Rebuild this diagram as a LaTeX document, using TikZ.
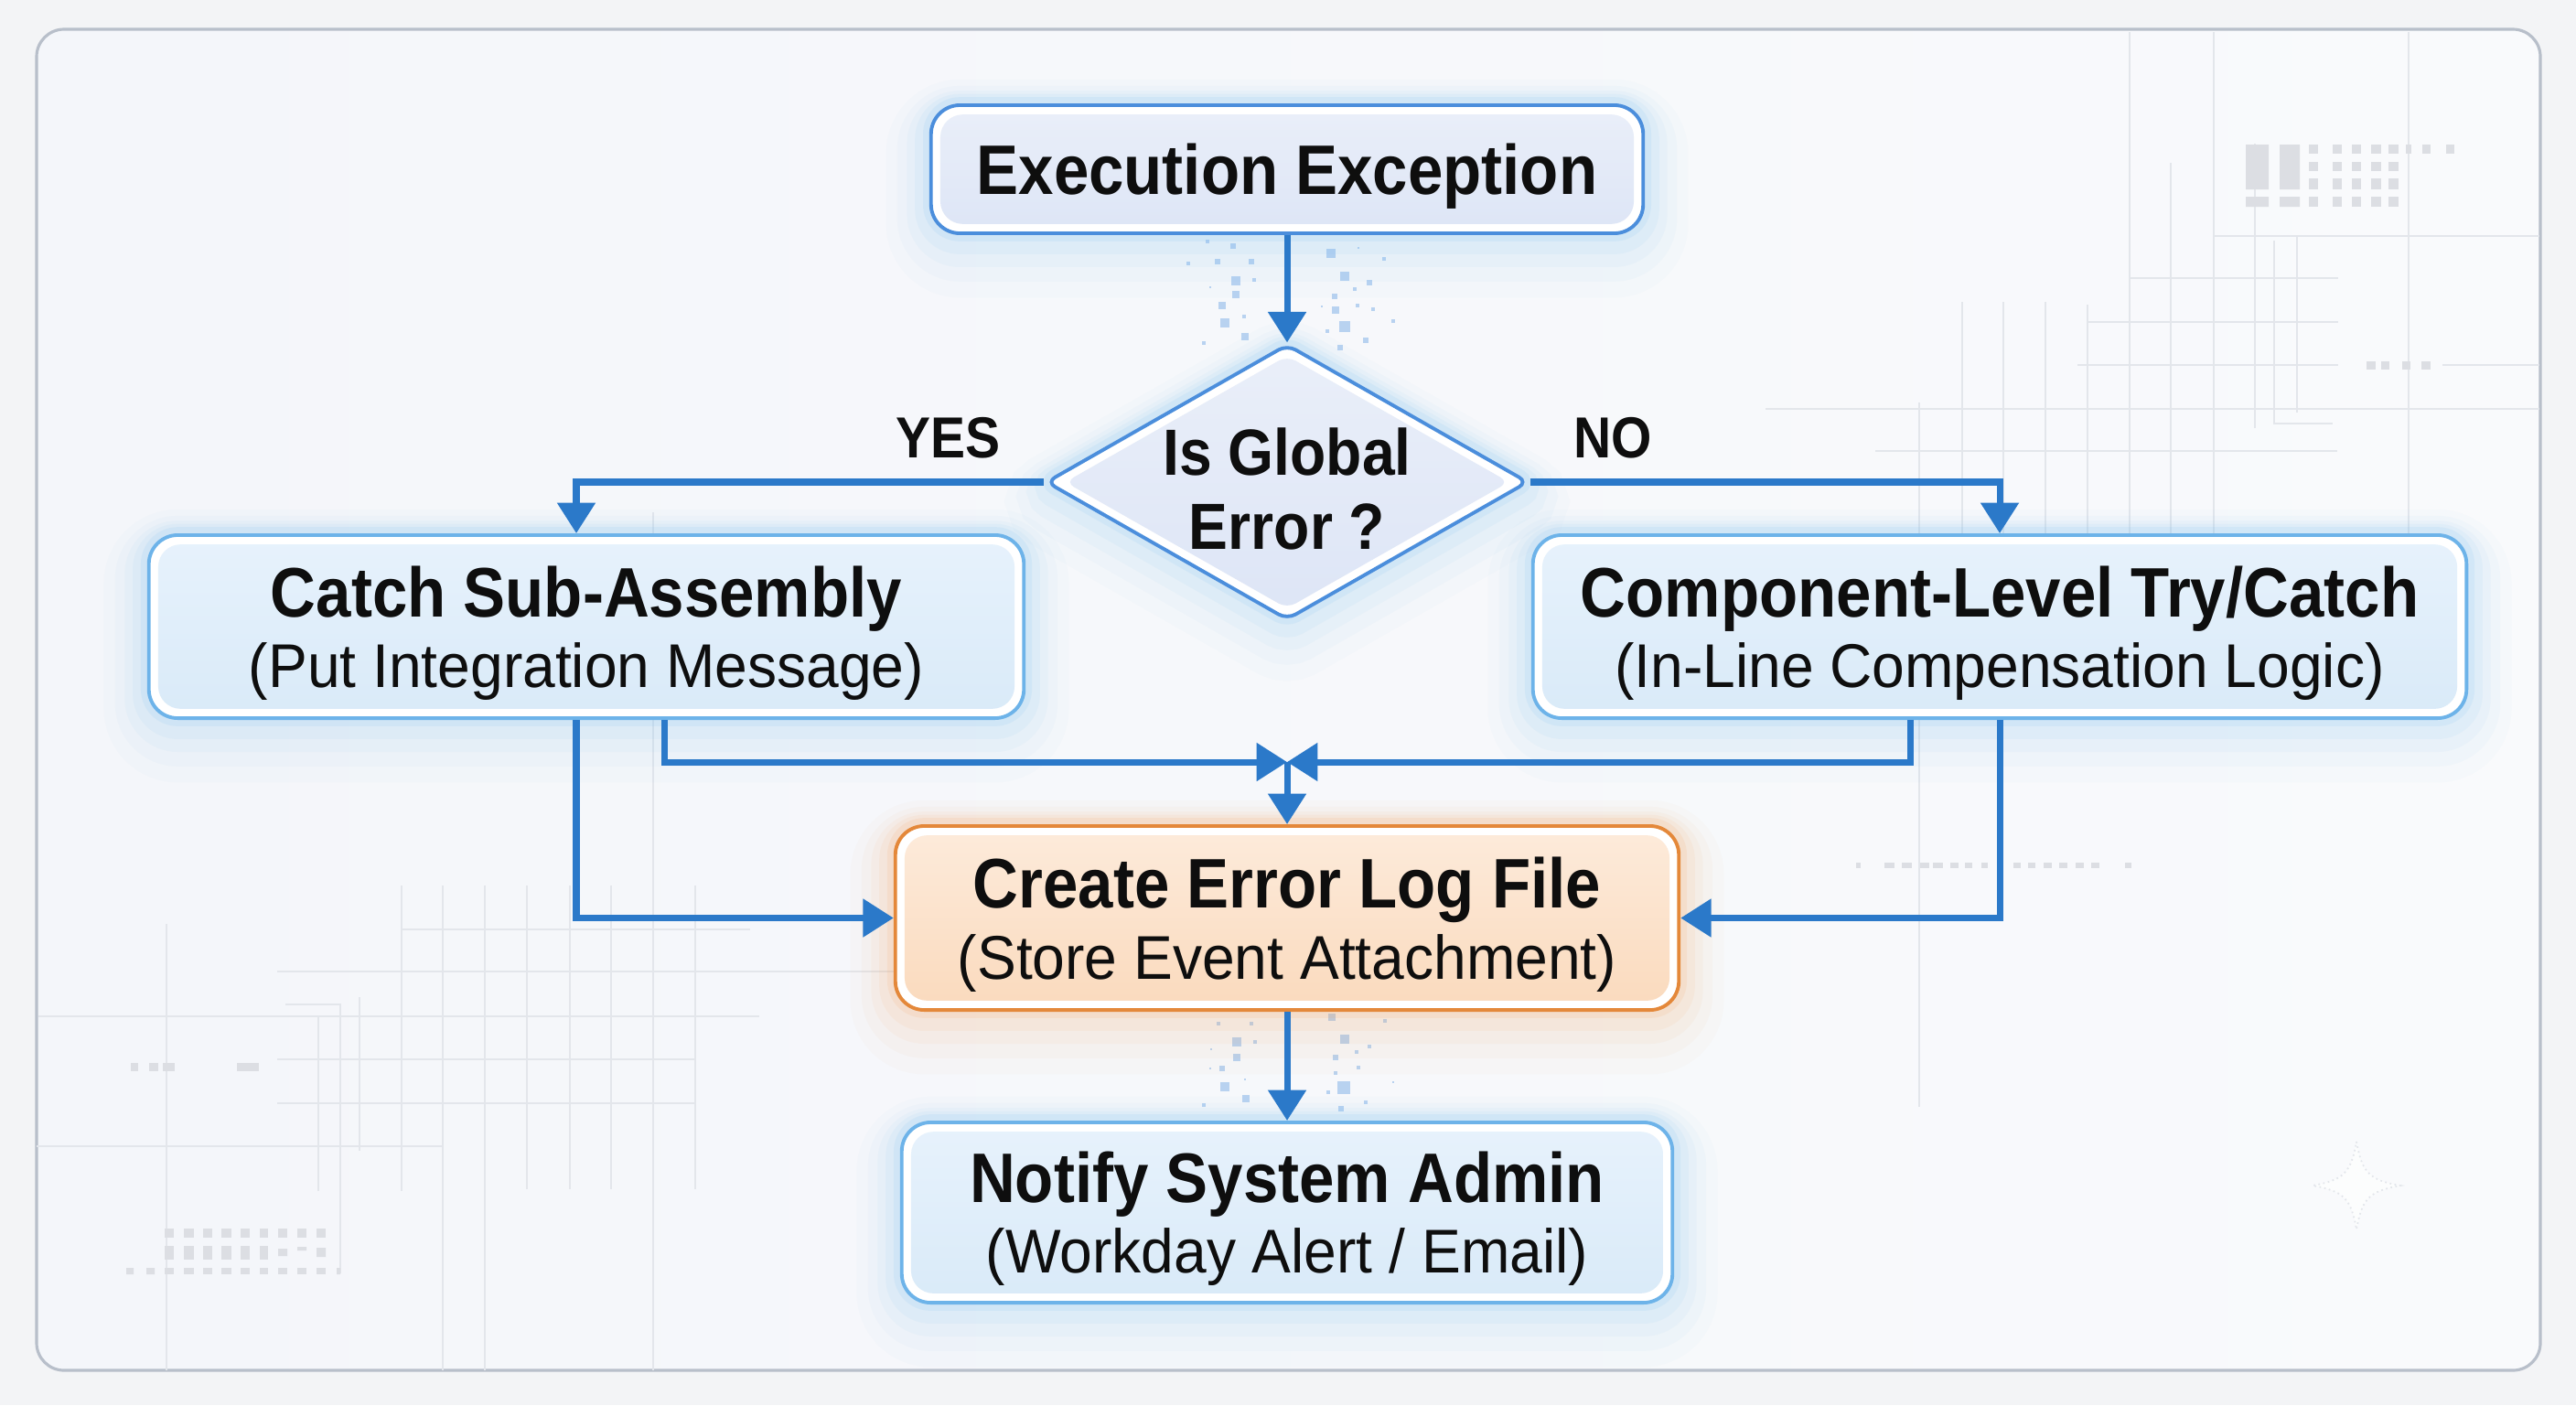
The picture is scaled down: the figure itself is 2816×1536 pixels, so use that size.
\documentclass[tikz,border=0pt]{standalone}
\usepackage{fontspec}
\setmainfont{Liberation Sans}
\newfontfamily\hfont{Liberation Sans}[FakeStretch=0.9]
\newfontfamily\sfam{Liberation Sans}[FakeStretch=0.95]
\usetikzlibrary{arrows.meta,shapes.geometric,calc}
\definecolor{arrowblue}{HTML}{2B79C9}
\definecolor{boxborder}{HTML}{6DB3E9}
\definecolor{boxfillA}{HTML}{E7F2FC}
\definecolor{boxfillB}{HTML}{D9EAF8}
\definecolor{exborder}{HTML}{4B8EDC}
\definecolor{exfillA}{HTML}{EAEFF9}
\definecolor{exfillB}{HTML}{DDE5F6}
\definecolor{orborder}{HTML}{E4883A}
\definecolor{orfillA}{HTML}{FDEBDB}
\definecolor{orfillB}{HTML}{FADABD}
\definecolor{glowblue}{HTML}{7FC0F4}
\definecolor{gloworange}{HTML}{F4A664}
\definecolor{gridc}{HTML}{E3E6EB}
\definecolor{sqc}{HTML}{DCDEE3}
\definecolor{framec}{HTML}{B8BFCA}
\definecolor{pagebg}{HTML}{F3F4F6}
\definecolor{framebgA}{HTML}{F4F6FA}
\definecolor{framebgB}{HTML}{F9FAFC}
\definecolor{txt}{HTML}{0E0E0E}
\definecolor{partc}{HTML}{86B3E8}
\newcommand{\mytitle}{\hfont\bfseries\fontsize{21.8pt}{21.3pt}\selectfont}
\newcommand{\mysub}{\sfam\mdseries\fontsize{19.2pt}{21.3pt}\selectfont}
\newcommand{\mydia}{\hfont\bfseries\fontsize{20.3pt}{21.3pt}\selectfont}
\tikzset{
  glow/.style={
    preaction={draw=#1,line width=28pt,opacity=0.03,transform canvas={yshift=-6pt}},
    preaction={draw=#1,line width=21pt,opacity=0.045,transform canvas={yshift=-4.5pt}},
    preaction={draw=#1,line width=15pt,opacity=0.06,transform canvas={yshift=-3pt}},
    preaction={draw=#1,line width=10pt,opacity=0.08,transform canvas={yshift=-1.5pt}},
    preaction={draw=#1,line width=5pt,opacity=0.13}},
  innershade/.style 2 args={path picture={
    \shade[top color=#1,bottom color=#2,rounded corners=7pt]
      ([shift={(2.9pt,2.9pt)}]path picture bounding box.south west) rectangle
      ([shift={(-2.9pt,-2.9pt)}]path picture bounding box.north east);}},
  flowbox/.style={rectangle,rounded corners=9pt,line width=1.1pt,fill=white,
    inner sep=0pt,align=center,text depth=0pt,text=txt},
  bluebox/.style={flowbox,draw=boxborder,glow=glowblue,innershade={boxfillA}{boxfillB}},
  diamondshade/.style={path picture={
    \shade[top color=exfillA,bottom color=exfillB]
      ([yshift=-3.4pt]path picture bounding box.north) --
      ([xshift=-5.8pt]path picture bounding box.east) --
      ([yshift=3.4pt]path picture bounding box.south) --
      ([xshift=5.8pt]path picture bounding box.west) -- cycle;}},
  lbl/.style={font=\hfont\bfseries\fontsize{18pt}{20pt}\selectfont,text depth=0pt,inner sep=0pt,text=txt},
  arr/.style={draw=arrowblue,line width=2pt,-{Triangle[length=9.5pt,width=11.5pt]}},
  gridline/.style={draw=gridc,line width=0.45pt},
}
\begin{document}
\begin{tikzpicture}[x=0.01cm,y=-0.01cm]
\useasboundingbox (0,0) rectangle (2816,1536);
\fill[pagebg] (0,0) rectangle (2816,1536);
\shade[left color=framebgA,right color=framebgB,rounded corners=0.3cm] (40,32) rectangle (2777,1498);
\draw[framec,line width=0.9pt,rounded corners=0.3cm] (40,32) rectangle (2777,1498);

% ---- faint background decoration: upper right
\path[gridline] (2328,35) -- (2328,585) (2420,35) -- (2420,585) (2633,35) -- (2633,585)
  (2145,330) -- (2145,585) (2190,330) -- (2190,585) (2236,330) -- (2236,585)
  (2282,333) -- (2282,585) (2373,178) -- (2373,585) (2465,157) -- (2465,468)
  (2486,263) -- (2486,463) -- (2550,463) (2511,258) -- (2511,451)
  (2420,258) -- (2776,258) (2328,304) -- (2556,304) (2282,352) -- (2556,352)
  (2271,399) -- (2556,399) (2670,399) -- (2776,399) (1930,447) -- (2776,447)
  (2050,493) -- (2555,493) (2098,440) -- (2098,1210);
\foreach \ya/\yb in {158/168,177/187,195/207,215/226}{
  \foreach \xa/\xb in {2524/2534,2550/2560,2571/2581,2592/2603,2611/2622}{
    \fill[sqc] (\xa,\ya) rectangle (\xb,\yb);}}
\fill[sqc] (2455,158) rectangle (2480,207) (2492,158) rectangle (2514,207)
  (2455,215) rectangle (2480,226) (2492,215) rectangle (2514,226);
\foreach \xa/\xb in {2630/2636,2648/2657,2674/2683}{\fill[sqc] (\xa,158) rectangle (\xb,168);}
\foreach \xa/\xb in {2587/2597,2603/2612,2626/2635,2647/2657}{\fill[sqc] (\xa,395) rectangle (\xb,404);}
\foreach \xa/\xb in {2029/2034,2060/2071,2079/2090,2099/2109,2113/2124,2132/2141,2148/2156,2166/2173,2201/2209,2217/2225,2234/2243,2251/2260,2269/2278,2286/2295,2323/2330}{
  \fill[sqc] (\xa,943) rectangle (\xb,949);}
% ---- lower left
\path[gridline] (182,1010) -- (182,1498) (439,968) -- (439,1302) (484,968) -- (484,1498)
  (530,968) -- (530,1498) (576,968) -- (576,1300) (623,968) -- (623,1300)
  (668,968) -- (668,1300) (714,560) -- (714,1498) (760,968) -- (760,1300)
  (348,1112) -- (348,1302) (312,1098) -- (372,1098) -- (372,1392) (393,1090) -- (393,1258)
  (439,1016) -- (820,1016) (303,1062) -- (978,1062) (42,1111) -- (830,1111)
  (303,1158) -- (760,1158) (303,1206) -- (760,1206) (40,1253) -- (484,1253);
\foreach \xa/\xb in {180/190,201/212,222/232,242/253,263/273,284/293,304/314,325/335,346/356}{
  \fill[sqc] (\xa,1343) rectangle (\xb,1353);
  \fill[sqc] (\xa,1386) rectangle (\xb,1393);}
\foreach \xa/\xb in {180/190,201/212,222/232,242/253,263/273,284/293}{
  \fill[sqc] (\xa,1362) rectangle (\xb,1377);}
\fill[sqc] (304,1365) rectangle (314,1373) (325,1363) rectangle (335,1367) (346,1364) rectangle (356,1374)
  (138,1386) rectangle (146,1393) (160,1386) rectangle (169,1393) (368,1386) rectangle (372,1393);
\foreach \xa/\xb in {143/151,163/173,178/191,259/283}{\fill[sqc] (\xa,1162) rectangle (\xb,1171);}
% sparkle
\draw[gridc,densely dotted,fill=white,fill opacity=0.6,line width=0.5pt]
  (2576,1248) .. controls (2582,1282) and (2590,1290) .. (2624,1296)
  .. controls (2590,1302) and (2582,1310) .. (2576,1344)
  .. controls (2570,1310) and (2562,1302) .. (2528,1296)
  .. controls (2562,1290) and (2570,1282) .. (2576,1248) -- cycle;

% ---- particles near vertical arrows
\foreach \px/\py/\s in {1320/264/2,1348/269/3,1299/288/2,1331/286/3,1368/286/3,1351/307/5,1371/306/2,1351/322/4,1323/314/1,1336/334/4,1360/346/2,1339/353/5,1361/368/4,1316/375/2,
  1455/277/5,1485/271/1,1513/283/2,1470/302/5,1497/309/3,1481/316/2,1459/324/3,1460/339/4,1484/334/2,1501/338/2,1445/335/1,1470/357/6,1451/362/2,1523/351/2,1493/372/3,1465/380/3,
  1332/1119/2,1368/1119/2,1456/1112/4,1514/1116/2,1352/1139/5,1372/1139/2,1470/1136/5,1497/1144/2,1324/1147/1,1352/1156/4,1460/1156/3,1483/1150/2,1336/1168/3,1323/1168/1,1485/1167/2,1361/1180/1,1460/1173/2,1339/1188/5,1469/1189/7,1523/1183/1,1452/1194/2,1362/1201/4,1316/1208/2,1493/1205/2,1466/1212/3}{
  \fill[partc,opacity=0.55] (\px-\s,\py-\s) rectangle (\px+\s,\py+\s);}

% ---- nodes
\node[flowbox,draw=exborder,glow=glowblue,innershade={exfillA}{exfillB},
  minimum width=7.78cm,minimum height=1.40cm] (exec) at (1407,185) {\mytitle Execution Exception};
\node[diamond,aspect=1.75,draw=exborder,line width=1.1pt,fill=white,rounded corners=3pt,
  glow=glowblue,diamondshade,minimum width=5.26cm,minimum height=3.0cm,inner sep=0pt,
  align=center,text depth=0pt,text=txt,font=\mydia] (d) at (1407,527) {\rule{0pt}{18.8pt}Is Global\\[1.5pt]Error ?};
\node[bluebox,minimum width=9.56cm,minimum height=2.00cm] (catch) at (641,685)
  {\mytitle Catch Sub-Assembly\\[2.5pt]\mysub (Put Integration Message)};
\node[bluebox,minimum width=10.20cm,minimum height=2.00cm] (comp) at (2186,685)
  {\mytitle Component-Level Try/Catch\\[2.5pt]\mysub (In-Line Compensation Logic)};
\node[flowbox,draw=orborder,glow=gloworange,innershade={orfillA}{orfillB},
  minimum width=8.56cm,minimum height=2.01cm] (create) at (1407,1003.5)
  {\mytitle Create Error Log File\\[2.5pt]\mysub (Store Event Attachment)};
\node[bluebox,minimum width=8.42cm,minimum height=1.97cm] (notify) at (1407,1325.5)
  {\mytitle Notify System Admin\\[2.5pt]\mysub (Workday Alert / Email)};
\node[lbl] (yes) at (1036,478) {YES};
\node[lbl] (no) at (1763,478) {NO};
\coordinate (m) at (1407,833);

% ---- connectors
\draw[arr] (exec.south) -- (d.north);
\draw[arr] (d.west) -| ([xshift=-0.11cm]catch.north);
\draw[arr] (d.east) -| (comp.north);
\draw[arr] ([xshift=-0.11cm]catch.south) |- (create.west);
\draw[arr] ([xshift=0.85cm]catch.south) |- (m);
\draw[arr] ([xshift=-0.97cm]comp.south) |- (m);
\draw[arr] (comp.south) |- (create.east);
\draw[arr] (m) -- (create.north);
\draw[arr] (create.south) -- (notify.north);
\end{tikzpicture}
\end{document}
